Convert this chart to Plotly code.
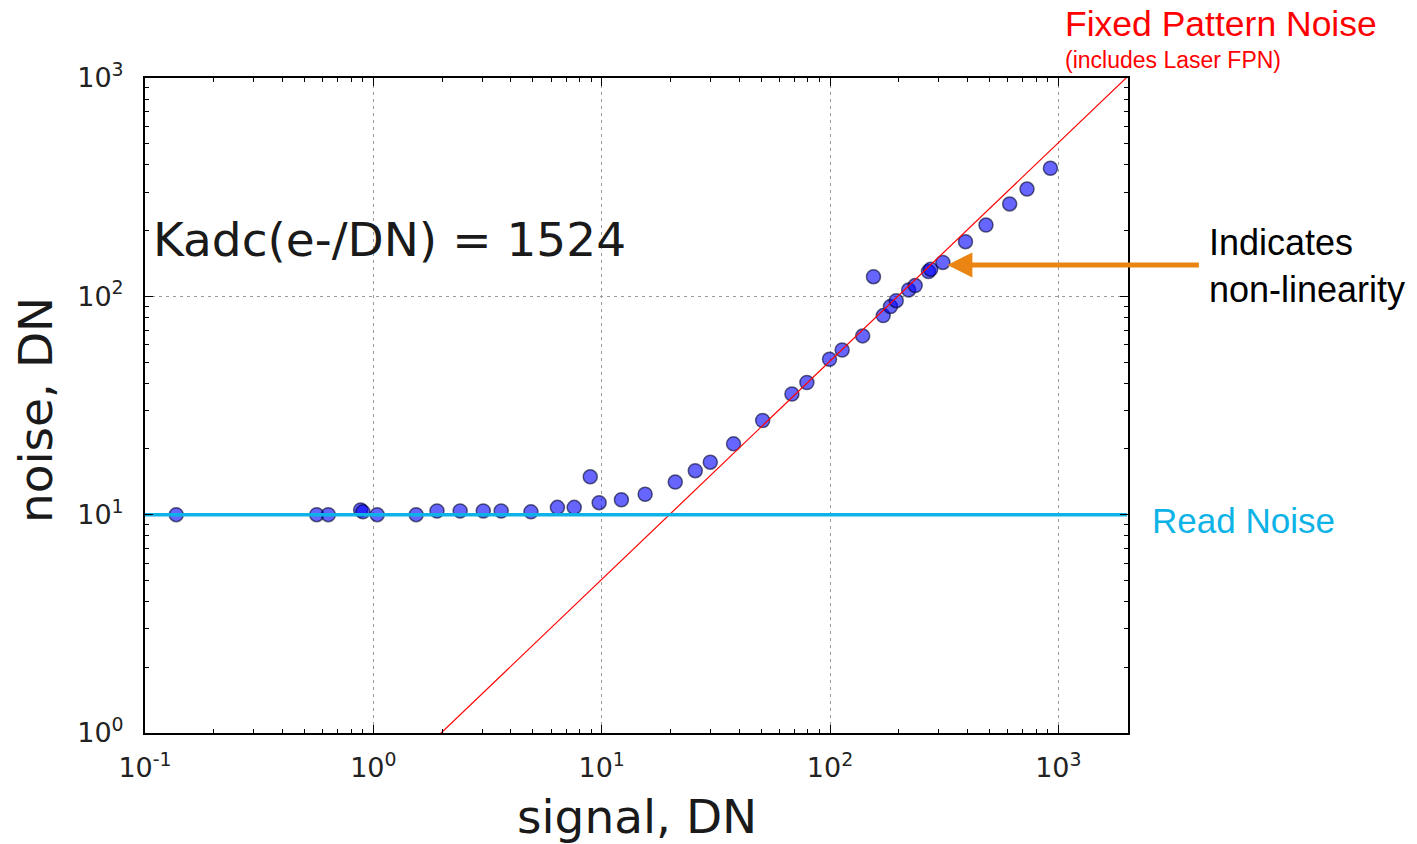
import plotly.graph_objects as go

# measured data (signal, noise) in DN
signal = [0.137, 0.565, 0.635, 0.88, 0.90, 1.04, 1.54, 1.90, 2.40, 3.03, 3.63, 4.90, 6.40, 7.58,
          8.91, 9.75, 12.2, 15.5, 21.0, 25.7, 29.9, 37.8, 50.7, 68.1, 79.2, 99.5, 113, 139, 155,
          171, 184, 195, 221, 236, 270, 276, 312, 392, 482, 612, 729, 923]
noise = [10.0, 10.0, 10.0, 10.5, 10.3, 10.0, 10.0, 10.4, 10.4, 10.4, 10.4, 10.3, 10.8, 10.8,
         14.9, 11.35, 11.7, 12.4, 14.1, 15.9, 17.4, 21.1, 27.0, 35.7, 40.3, 51.5, 56.8, 65.9, 123,
         81.6, 89.8, 95.5, 107, 112, 130, 133, 143, 178, 212, 265, 310, 386]

# model lines
fpn_x = [0.1, 2000]
fpn_slope = 1 / 1.98
fpn_y = [v * fpn_slope for v in fpn_x]
read_x = [0.1, 2000]
read_y = [10, 10]

x_tickvals = [0.1, 1, 10, 100, 1000]
x_ticktext = ["10<sup>-1</sup>", "10<sup>0</sup>", "10<sup>1</sup>", "10<sup>2</sup>", "10<sup>3</sup>"]
y_tickvals = [1, 10, 100, 1000]
y_ticktext = ["10<sup>0</sup>", "10<sup>1</sup>", "10<sup>2</sup>", "10<sup>3</sup>"]
x_minor = [m * d for d in [0.1, 1, 10, 100, 1000] for m in range(2, 10) if m * d <= 2000]
y_minor = [m * d for d in [1, 10, 100] for m in range(2, 10)]

X_RANGE = [-1, 3.305]
Y_RANGE = [0, 3]

fig = go.Figure()
fig.add_trace(go.Scatter(x=signal, y=noise, mode="markers",
                         marker=dict(size=14, color="rgba(0,0,255,0.6)",
                                     line=dict(color="rgba(0,0,40,0.6)", width=1.5)),
                         showlegend=False))
fig.add_trace(go.Scatter(x=fpn_x, y=fpn_y, mode="lines",
                         line=dict(color="#ff0000", width=1.2), showlegend=False))
fig.add_trace(go.Scatter(x=read_x, y=read_y, mode="lines",
                         line=dict(color="#0DB3E6", width=3.5), showlegend=False))

# invisible traces so that the tick-only overlay axes are drawn
for i in range(2, 5):
    fig.add_trace(go.Scatter(x=[1], y=[10], xaxis=f"x{i}", yaxis=f"y{i}", mode="markers",
                             marker=dict(opacity=0), showlegend=False, hoverinfo="skip"))

tick_base = dict(type="log", zeroline=False, ticks="inside", tickwidth=1, tickcolor="black",
                 showgrid=False, showline=False, showticklabels=False)
tfont = dict(family="DejaVu Sans", size=27, color="#222")

fig.update_layout(
    xaxis=dict(type="log", range=X_RANGE, tickmode="array", tickvals=x_tickvals, ticktext=x_ticktext,
               ticks="inside", ticklen=8, tickwidth=1, tickcolor="black",
               showline=True, linecolor="black", linewidth=2, mirror=True, zeroline=False,
               showgrid=True, gridcolor="#9a9a9a", gridwidth=1, griddash="3px,4px",
               ticklabelstandoff=10, tickfont=tfont),
    yaxis=dict(type="log", range=Y_RANGE, tickmode="array", tickvals=y_tickvals, ticktext=y_ticktext,
               ticks="inside", ticklen=8, tickwidth=1, tickcolor="black",
               showline=True, linecolor="black", linewidth=2, mirror=True, zeroline=False,
               showgrid=True, gridcolor="#9a9a9a", gridwidth=1, griddash="3px,4px",
               ticklabelstandoff=14, tickfont=tfont),
    # bottom/left minor ticks
    xaxis2=dict(range=X_RANGE, tickmode="array", tickvals=x_minor, ticklen=4,
                overlaying="x", side="bottom", **tick_base),
    yaxis2=dict(range=Y_RANGE, tickmode="array", tickvals=y_minor, ticklen=4,
                overlaying="y", side="left", **tick_base),
    # top/right major ticks
    xaxis3=dict(range=X_RANGE, tickmode="array", tickvals=x_tickvals, ticklen=8,
                overlaying="x", side="top", **tick_base),
    yaxis3=dict(range=Y_RANGE, tickmode="array", tickvals=y_tickvals, ticklen=8,
                overlaying="y", side="right", **tick_base),
    # top/right minor ticks
    xaxis4=dict(range=X_RANGE, tickmode="array", tickvals=x_minor, ticklen=4,
                overlaying="x", side="top", **tick_base),
    yaxis4=dict(range=Y_RANGE, tickmode="array", tickvals=y_minor, ticklen=4,
                overlaying="y", side="right", **tick_base),
)

anns = [
    dict(text="Kadc(e-/DN) = 1524", x=0.006, y=0.7527, xanchor="left", yanchor="middle",
         font=dict(family="DejaVu Sans", size=47, color="#1a1a1a")),
    dict(text="signal, DN", x=0.5, y=-0.127, xanchor="center", yanchor="middle",
         font=dict(family="DejaVu Sans", size=47, color="#1a1a1a")),
    dict(text="noise, DN", x=-0.112, y=0.493, xanchor="center", yanchor="middle", textangle=-90,
         font=dict(family="DejaVu Sans", size=47, color="#1a1a1a")),
    dict(text="Fixed Pattern Noise", x=0.934, y=1.0824, xanchor="left", yanchor="middle",
         font=dict(family="Liberation Sans", size=35.5, color="#ff0000")),
    dict(text="(includes Laser FPN)", x=0.934, y=1.0275, xanchor="left", yanchor="middle",
         font=dict(family="Liberation Sans", size=23, color="#ff0000")),
    dict(text="Indicates<br>non-linearity", x=1.0804, y=0.713, xanchor="left", yanchor="middle",
         align="left", font=dict(family="Liberation Sans", size=36, color="black")),
    dict(text="Read Noise", x=1.0224, y=0.325, xanchor="left", yanchor="middle",
         font=dict(family="Liberation Sans", size=35, color="#0DB3E6")),
]
for a in anns:
    a.update(xref="paper", yref="paper", showarrow=False)
    fig.add_annotation(**a)

# arrow pointing at non-linearity region
fig.add_annotation(x=2.514, y=2.144, xref="x", yref="y", text="", showarrow=True,
                   ax=253, ay=0, axref="pixel", ayref="pixel",
                   arrowhead=2, arrowsize=1, arrowwidth=5, arrowcolor="#EA8413")

fig.update_layout(width=1417, height=844, margin=dict(l=145, r=289, t=78, b=111),
                  plot_bgcolor="white", paper_bgcolor="white")

fig.write_html("out.html")
